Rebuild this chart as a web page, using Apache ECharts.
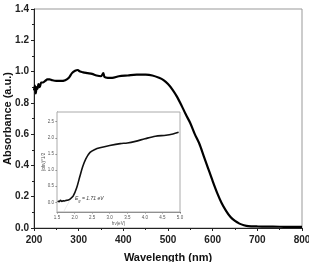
<!DOCTYPE html>
<html>
<head>
<meta charset="utf-8">
<script src="https://cdn.jsdelivr.net/npm/echarts@6/dist/echarts.min.js"></script>
<style>
  html, body { margin: 0; padding: 0; background: #fff; }
  #chart { width: 309px; height: 262px; }
</style>
</head>
<body>
<div id="chart"></div>
<script>
// main spectrum: wavelength (nm) vs absorbance
var wavelength = [200, 202, 204, 206, 208, 210, 213, 216, 220, 225, 230, 235, 240, 250, 260, 270, 278, 285, 292, 298, 303, 310, 320, 330, 340, 350, 355, 358, 365, 375, 390, 410, 430, 450, 465, 480, 490, 500, 510, 520, 530, 540, 550, 560, 570, 580, 590, 600, 610, 620, 630, 640, 650, 660, 670, 680, 700, 720, 750, 780, 800];
var absorbance = [0.88, 0.91, 0.86, 0.90, 0.89, 0.92, 0.90, 0.93, 0.93, 0.94, 0.95, 0.95, 0.945, 0.94, 0.94, 0.945, 0.96, 0.99, 1.005, 1.01, 1.0, 0.995, 0.99, 0.985, 0.975, 0.97, 0.99, 0.965, 0.96, 0.96, 0.97, 0.975, 0.98, 0.98, 0.975, 0.96, 0.945, 0.92, 0.885, 0.84, 0.785, 0.725, 0.67, 0.6, 0.54, 0.46, 0.38, 0.30, 0.225, 0.16, 0.11, 0.07, 0.045, 0.028, 0.018, 0.012, 0.010, 0.009, 0.008, 0.007, 0.007];

// inset: Tauc plot
var energy = [1.52, 1.56, 1.60, 1.64, 1.68, 1.72, 1.76, 1.82, 1.88, 1.96, 2.06, 2.15, 2.23, 2.32, 2.44, 2.58, 2.72, 3.0, 3.3, 3.5, 3.73, 4.0, 4.3, 4.6, 4.8, 4.96];
var tauc = [0.04, 0.02, 0.06, 0.03, 0.05, 0.04, 0.06, 0.07, 0.11, 0.19, 0.45, 0.80, 1.10, 1.35, 1.55, 1.64, 1.69, 1.76, 1.82, 1.84, 1.89, 1.97, 2.05, 2.08, 2.12, 2.17];
var tangentX = [1.71, 1.98];
var tangentY = [-0.25, 0.30];
var insetYTicks = [0, 0.5, 1.0, 1.5, 2.0, 2.5];

function pairs(xs, ys) {
  return xs.map(function (x, i) { return [x, ys[i]]; });
}

var myChart = echarts.init(document.getElementById("chart"));
var labelFont = { color: "#222", fontFamily: "Liberation Sans", fontWeight: "bold", fontSize: 10 };
var tinyFont = { color: "#555", fontFamily: "Liberation Sans", fontSize: 4.5 };
var titleFont = { color: "#111", fontFamily: "Liberation Sans", fontWeight: "bold", fontSize: 11 };

var option = {
  animation: false,
  grid: [
    { left: 34, top: 9, right: 7, bottom: 34, outerBoundsMode: "none", containLabel: false, show: true, borderColor: "#999", borderWidth: 1 },
    { left: 57, top: 112, right: 129, bottom: 50, outerBoundsMode: "none", containLabel: false, show: true, borderColor: "#aaa", borderWidth: 1, backgroundColor: "#fff", z: 5 }
  ],
  xAxis: [
    {
      gridIndex: 0, type: "value", min: 200, max: 800, interval: 100,
      name: "Wavelength (nm)", nameLocation: "middle", nameGap: 24, nameMoveOverlap: false,
      nameTextStyle: titleFont,
      axisLine: { lineStyle: { color: "#222", width: 1 } },
      axisTick: { inside: false, length: 3, lineStyle: { color: "#222" } },
      minorTick: { show: true, splitNumber: 2, length: 2, lineStyle: { color: "#222" } },
      axisLabel: Object.assign({ margin: 7 }, labelFont),
      splitLine: { show: false }
    },
    {
      gridIndex: 1, type: "value", min: 1.5, max: 5.0, interval: 0.5,
      name: "hν(eV)", nameLocation: "middle", nameGap: 9, nameMoveOverlap: false,
      nameTextStyle: tinyFont,
      axisLine: { onZero: false, lineStyle: { color: "#777", width: 1 } },
      axisTick: { length: 1.5, lineStyle: { color: "#777" } },
      axisLabel: Object.assign({ margin: 3, formatter: function (v) { return v.toFixed(1); } }, tinyFont),
      splitLine: { show: false }
    }
  ],
  yAxis: [
    {
      gridIndex: 0, type: "value", min: 0, max: 1.4, interval: 0.2,
      name: "Absorbance (a.u.)", nameLocation: "middle", nameGap: 21, nameMoveOverlap: false,
      nameTextStyle: titleFont,
      axisLine: { show: true, lineStyle: { color: "#222", width: 1 } },
      axisTick: { show: true, length: 3, lineStyle: { color: "#222" } },
      minorTick: { show: true, splitNumber: 2, length: 2, lineStyle: { color: "#222" } },
      axisLabel: Object.assign({ margin: 5, formatter: function (v) { return v.toFixed(1); } }, labelFont),
      splitLine: { show: false }
    },
    {
      gridIndex: 1, type: "value", min: -0.3, max: 2.8,
      name: "(αhν)^1/2", nameLocation: "middle", nameGap: 11, nameMoveOverlap: false,
      nameTextStyle: tinyFont,
      axisLine: { show: true, onZero: false, lineStyle: { color: "#777", width: 1 } },
      axisTick: { show: true, length: 1.5, customValues: insetYTicks, lineStyle: { color: "#777" } },
      axisLabel: Object.assign({ margin: 3, customValues: insetYTicks, formatter: function (v) { return v.toFixed(1); } }, tinyFont),
      splitLine: { show: false }
    }
  ],
  series: [
    {
      type: "line", xAxisIndex: 0, yAxisIndex: 0, data: pairs(wavelength, absorbance),
      showSymbol: false, smooth: 0.3,
      lineStyle: { color: "#000", width: 2.2 }
    },
    {
      type: "line", xAxisIndex: 1, yAxisIndex: 1, data: pairs(tangentX, tangentY),
      showSymbol: false, z: 6,
      lineStyle: { color: "#bbb", width: 0.6, type: "dotted" }
    },
    {
      type: "line", xAxisIndex: 1, yAxisIndex: 1, data: pairs(energy, tauc),
      showSymbol: false, smooth: 0.3, z: 7,
      lineStyle: { color: "#111", width: 1.6 }
    }
  ],
  graphic: [
    {
      type: "text", left: 75, top: 196, z: 10,
      style: { text: "E", fill: "#333", font: "italic 5px 'Liberation Sans'" }
    },
    {
      type: "text", left: 78.5, top: 199, z: 10,
      style: { text: "g", fill: "#333", font: "italic 3.5px 'Liberation Sans'" }
    },
    {
      type: "text", left: 82, top: 196, z: 10,
      style: { text: "= 1.71 eV", fill: "#333", font: "italic 5px 'Liberation Sans'" }
    }
  ]
};

myChart.setOption(option);
</script>
</body>
</html>
